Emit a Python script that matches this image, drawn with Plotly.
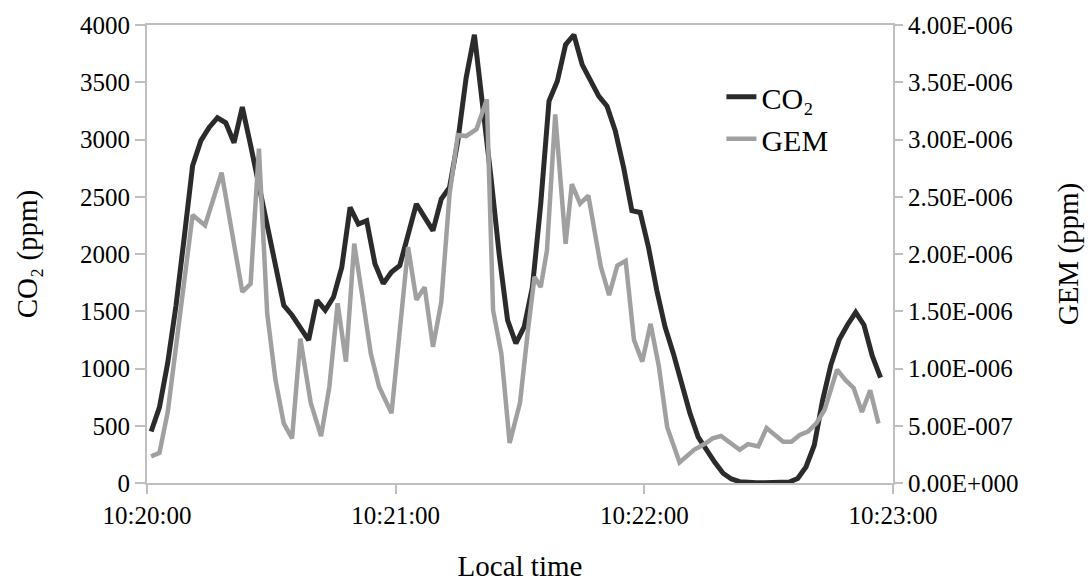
import pandas as pd
import plotly.graph_objects as go

# ---- data ----
co2_seconds = [1, 3, 5, 7, 9, 11, 13, 15, 17, 19, 21, 23, 25, 27, 29, 31, 33, 35, 37, 39,
               41, 43, 45, 47, 49, 51, 53, 55, 57, 59, 61, 63, 65, 67, 69, 71, 73, 75, 77, 79,
               81, 83, 85, 87, 89, 91, 93, 95, 97, 99, 101, 103, 105, 107, 109, 111, 113, 115, 117, 119,
               121, 123, 125, 127, 129, 131, 133, 135, 137, 139, 141, 143, 145, 147, 149, 151, 153, 155, 157, 159,
               161, 163, 165, 167, 169, 171, 173, 175, 177]
co2_ppm = [450, 660, 1050, 1550, 2150, 2770, 2990, 3105, 3190, 3146, 2972, 3283, 2950, 2590, 2230, 1870, 1552, 1465, 1349, 1248,
           1596, 1509, 1624, 1885, 2407, 2262, 2291, 1915, 1741, 1842, 1900, 2176, 2437, 2320, 2204, 2480, 2581, 2987, 3537, 3915,
           3335, 2668, 1990, 1422, 1219, 1363, 1711, 2437, 3335, 3509, 3828, 3915, 3654, 3523, 3378, 3291, 3074, 2755, 2378, 2363,
           2059, 1683, 1363, 1132, 871, 610, 400, 280, 180, 85, 35, 12, 5, 3, 2, 2, 2, 8, 40, 140,
           330, 720, 1030, 1250, 1380, 1490, 1380, 1110, 920]

gem_seconds = [1, 3, 5, 7, 9, 11, 14, 18, 23, 25, 27, 29, 31, 33, 35, 37, 39.5, 42, 44, 46,
               48, 50, 52, 54, 56, 59, 63, 65, 67, 69, 71, 73, 75, 77, 79.5, 82, 83.5, 85.5, 87.5, 90,
               92, 93.5, 95, 96.5, 98.5, 101, 102.5, 104.5, 106.5, 109.5, 111.5, 113.5, 115.5, 117.5, 119.5, 121.5, 123.5, 125.5, 128.5, 132,
               134.5, 136.5, 138.5, 140.5, 143, 145, 147.5, 149.5, 151.5, 153.5, 155.5, 157.5, 159.5, 161.5, 163.5, 166.5, 168.5, 170.5, 172.5, 174.5,
               176.5]
gem_ppm = [2.33e-7, 2.63e-7, 6.2e-7, 1.18e-6, 1.80e-6, 2.34e-6, 2.25e-6, 2.71e-6, 1.67e-6, 1.74e-6,
           2.92e-6, 1.48e-6, 9.0e-7, 5.2e-7, 3.9e-7, 1.26e-6, 7.0e-7, 4.1e-7, 8.4e-7, 1.57e-6,
           1.06e-6, 2.09e-6, 1.62e-6, 1.13e-6, 8.4e-7, 6.1e-7, 2.06e-6, 1.60e-6, 1.71e-6, 1.19e-6,
           1.58e-6, 2.52e-6, 3.04e-6, 3.03e-6, 3.09e-6, 3.35e-6, 1.51e-6, 1.13e-6, 3.5e-7, 7.0e-7,
           1.36e-6, 1.80e-6, 1.71e-6, 2.03e-6, 3.22e-6, 2.09e-6, 2.61e-6, 2.44e-6, 2.51e-6, 1.89e-6,
           1.64e-6, 1.90e-6, 1.94e-6, 1.25e-6, 1.06e-6, 1.39e-6, 1.02e-6, 4.9e-7, 1.8e-7, 2.9e-7,
           3.4e-7, 3.9e-7, 4.1e-7, 3.6e-7, 2.9e-7, 3.4e-7, 3.2e-7, 4.8e-7, 4.2e-7, 3.6e-7,
           3.6e-7, 4.2e-7, 4.5e-7, 5.2e-7, 6.4e-7, 9.9e-7, 9.0e-7, 8.3e-7, 6.2e-7, 8.1e-7,
           5.2e-7]

start_time = "2000-01-01 10:20:00"
end_time = "2000-01-01 10:23:00"
x_tick_labels = ["10:20:00", "10:21:00", "10:22:00", "10:23:00"]
y_left_ticks = [0, 500, 1000, 1500, 2000, 2500, 3000, 3500, 4000]
y_right_ticks = [0, 5e-7, 1e-6, 1.5e-6, 2e-6, 2.5e-6, 3e-6, 3.5e-6, 4e-6]
y_right_labels = ["0.00E+000", "5.00E-007", "1.00E-006", "1.50E-006", "2.00E-006",
                  "2.50E-006", "3.00E-006", "3.50E-006", "4.00E-006"]

base = pd.Timestamp(start_time)
co2_x = base + pd.to_timedelta(co2_seconds, unit="s")
gem_x = base + pd.to_timedelta(gem_seconds, unit="s")
x_tick_vals = [base + pd.Timedelta(minutes=i) for i in range(len(x_tick_labels))]

FONT = "Liberation Serif"
AXIS_COLOR = "#bfbfbf"
TICK_FONT = dict(family=FONT, size=25, color="#000000")
TITLE_FONT = dict(family=FONT, size=29, color="#000000")

fig = go.Figure()
fig.add_trace(go.Scatter(x=co2_x, y=co2_ppm, mode="lines", name="CO₂",
                         line=dict(color="#2b2b2b", width=5)))
fig.add_trace(go.Scatter(x=gem_x, y=gem_ppm, mode="lines", name="GEM", yaxis="y2",
                         line=dict(color="#a0a0a0", width=4.5)))

fig.update_layout(
    width=1091, height=583,
    margin=dict(l=147, r=102, t=24, b=100),
    paper_bgcolor="white", plot_bgcolor="white",
    font=dict(family=FONT, size=25, color="#000000"),
    showlegend=True,
    legend=dict(x=0.77, y=0.90, xanchor="left", yanchor="top",
                font=dict(family=FONT, size=30, color="#000000"),
                bgcolor="rgba(0,0,0,0)", tracegroupgap=0),
    xaxis=dict(type="date", range=[start_time, end_time],
               tickvals=x_tick_vals, ticktext=x_tick_labels,
               showgrid=False, zeroline=False, automargin=False,
               showline=True, linecolor=AXIS_COLOR, linewidth=2, mirror=True,
               ticks="outside", ticklen=9, tickwidth=2, tickcolor=AXIS_COLOR,
               tickfont=TICK_FONT,
               title=dict(text="Local time", font=TITLE_FONT, standoff=28)),
    yaxis=dict(range=[0, 4000], tickvals=y_left_ticks,
               showgrid=False, zeroline=False,
               showline=True, linecolor=AXIS_COLOR, linewidth=2,
               ticks="outside", ticklen=10, tickwidth=2, tickcolor=AXIS_COLOR,
               tickfont=TICK_FONT,
               title=dict(text="CO₂ (ppm)", font=TITLE_FONT, standoff=34)),
    yaxis2=dict(range=[0, 4e-6], overlaying="y", side="right",
                tickvals=y_right_ticks, ticktext=y_right_labels,
                showgrid=False, zeroline=False,
                showline=True, linecolor=AXIS_COLOR, linewidth=2,
                ticks="outside", ticklen=8, tickwidth=2, tickcolor=AXIS_COLOR,
                tickfont=TICK_FONT,
                title=dict(text="GEM (ppm)", font=TITLE_FONT, standoff=40)),
)

fig.write_html("out.html")
